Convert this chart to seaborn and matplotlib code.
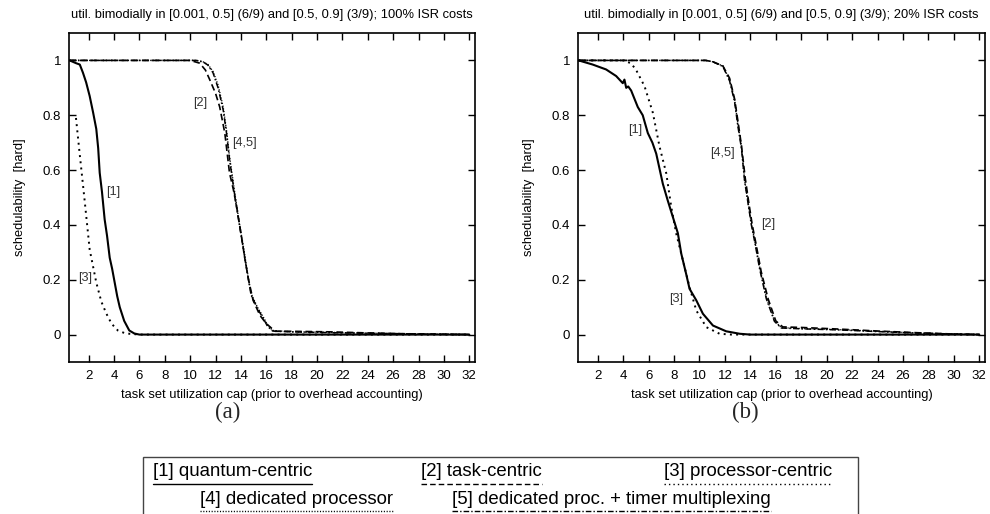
import numpy as np
import pandas as pd
import matplotlib
matplotlib.use("Agg")
import matplotlib.pyplot as plt
from matplotlib.lines import Line2D
from matplotlib.patches import Rectangle
import seaborn as sns

sns.set_theme(style="white")
plt.rcParams['font.family'] = ['Liberation Sans', 'DejaVu Sans']

# ---------------- data ----------------
titles = ["util. bimodially in [0.001, 0.5] (6/9) and [0.5, 0.9] (3/9); 100% ISR costs",
          "util. bimodially in [0.001, 0.5] (6/9) and [0.5, 0.9] (3/9); 20% ISR costs"]
xlabel = "task set utilization cap (prior to overhead accounting)"
ylabel = "schedulability  [hard]"
xticks = list(range(2, 33, 2))
yticks = [0, 0.2, 0.4, 0.6, 0.8, 1]
panel_labels = ["(a)", "(b)"]

# panel (a): 100% ISR costs
qc_a_x = [0.5, 1.0, 1.3, 1.55, 1.8, 2.08, 2.35, 2.6, 2.75, 2.87, 3.05, 3.26, 3.45, 3.66, 3.85,
          4.05, 4.25, 4.45, 4.8, 5.2, 5.6, 6.0, 32]
qc_a_y = [1.0, 0.99, 0.985, 0.955, 0.92, 0.87, 0.81, 0.75, 0.68, 0.59, 0.52, 0.42, 0.36, 0.28, 0.24,
          0.19, 0.14, 0.10, 0.05, 0.015, 0.004, 0.0, 0.0]
pc_a_x = [1.0, 1.29, 1.68, 2.08, 2.6, 3.0, 3.39, 3.8, 4.3, 4.8, 5.2, 6.0, 32]
pc_a_y = [0.79, 0.66, 0.49, 0.31, 0.19, 0.12, 0.077, 0.04, 0.015, 0.006, 0.003, 0.0, 0.0]
tc_a_x = [0.5, 10.0, 10.75, 11.2, 11.54, 12.0, 12.33, 12.73, 13.1, 13.4, 13.65, 14.0, 14.3, 14.6,
          14.96, 15.5, 16.0, 16.7, 18, 21, 24, 27, 30, 32]
tc_a_y = [1.0, 1.0, 0.99, 0.965, 0.93, 0.88, 0.83, 0.735, 0.59, 0.53, 0.47, 0.37, 0.28, 0.20,
          0.125, 0.07, 0.04, 0.012, 0.012, 0.01, 0.006, 0.003, 0.001, 0.0]
dp_a_x = [0.5, 10.5, 11.0, 11.4, 11.8, 12.2, 12.6, 12.85, 13.1, 13.35, 13.6, 13.9, 14.2, 14.5,
          14.8, 15.3, 15.75, 16.1, 16.5, 18, 21, 24, 27, 30, 32]
dp_a_y = [1.0, 1.0, 0.995, 0.985, 0.96, 0.91, 0.83, 0.75, 0.65, 0.57, 0.49, 0.40, 0.32, 0.23,
          0.15, 0.10, 0.065, 0.035, 0.015, 0.01, 0.008, 0.005, 0.003, 0.001, 0.0]
dt_a_x = [0.5, 10.5, 11.0, 11.4, 11.8, 12.2, 12.6, 12.85, 13.1, 13.35, 13.6, 13.9, 14.2, 14.5,
          14.8, 15.3, 15.75, 16.1, 16.5, 18, 21, 24, 27, 30, 32]
dt_a_y = [1.0, 1.0, 0.995, 0.983, 0.955, 0.90, 0.82, 0.74, 0.64, 0.56, 0.48, 0.395, 0.31, 0.225,
          0.145, 0.095, 0.06, 0.03, 0.013, 0.01, 0.007, 0.005, 0.003, 0.001, 0.0]

# panel (b): 20% ISR costs
qc_b_x = [0.5, 1.6, 2.66, 3.45, 3.97, 4.1, 4.24, 4.4, 4.63, 5.15, 5.54, 5.94, 6.3, 6.6, 7.12,
          7.5, 7.9, 8.3, 8.57, 8.96, 9.22, 9.75, 10.27, 11.06, 12.1, 13.16, 14.0, 32]
qc_b_y = [1.0, 0.985, 0.967, 0.943, 0.917, 0.93, 0.90, 0.905, 0.89, 0.83, 0.80, 0.735, 0.70, 0.66, 0.55,
          0.49, 0.43, 0.37, 0.295, 0.22, 0.167, 0.125, 0.076, 0.033, 0.012, 0.003, 0.0, 0.0]
pc_b_x = [0.5, 4.0, 4.6, 5.0, 5.68, 6.33, 6.86, 7.39, 7.78, 8.17, 8.7, 9.22, 9.75, 10.54,
          11.58, 12.5, 32]
pc_b_y = [1.0, 1.0, 0.99, 0.967, 0.906, 0.81, 0.686, 0.588, 0.466, 0.369, 0.27, 0.173, 0.088, 0.027,
          0.003, 0.0, 0.0]
tc_b_x = [0.5, 10.5, 11.06, 11.84, 12.37, 12.76, 13.02, 13.3, 13.6, 13.85, 14.15, 14.45, 14.85,
          15.4, 16.0, 16.55, 18, 21, 24, 27, 30, 32]
tc_b_y = [1.0, 1.0, 0.995, 0.98, 0.935, 0.86, 0.78, 0.69, 0.57, 0.49, 0.40, 0.33, 0.23,
          0.13, 0.05, 0.028, 0.026, 0.02, 0.013, 0.007, 0.002, 0.0]
dp_b_x = [0.5, 10.5, 11.06, 11.84, 12.37, 12.76, 13.02, 13.3, 13.55, 13.8, 14.08, 14.34, 14.73,
          15.26, 15.9, 16.44, 18, 21, 24, 27, 30, 32]
dp_b_y = [1.0, 1.0, 0.995, 0.98, 0.93, 0.857, 0.77, 0.686, 0.564, 0.49, 0.405, 0.344, 0.247,
          0.137, 0.05, 0.025, 0.022, 0.018, 0.012, 0.006, 0.002, 0.0]
dt_b_x = [0.5, 10.5, 11.06, 11.84, 12.37, 12.76, 13.02, 13.3, 13.55, 13.8, 14.08, 14.34, 14.73,
          15.26, 15.9, 16.44, 18, 21, 24, 27, 30, 32]
dt_b_y = [1.0, 1.0, 0.995, 0.978, 0.925, 0.85, 0.76, 0.68, 0.56, 0.485, 0.40, 0.34, 0.24,
          0.13, 0.048, 0.024, 0.021, 0.017, 0.011, 0.006, 0.002, 0.0]

series_names = ["[1] quantum-centric", "[2] task-centric", "[3] processor-centric",
                "[4] dedicated processor", "[5] dedicated proc. + timer multiplexing"]

# annotations: (text, x, y)
annot_a = [("[1]", 3.9, 0.52), ("[3]", 1.7, 0.205), ("[2]", 10.8, 0.845), ("[4,5]", 14.3, 0.70)]
annot_b = [("[1]", 4.97, 0.747), ("[4,5]", 11.84, 0.662), ("[2]", 15.4, 0.405), ("[3]", 8.2, 0.13)]

# ---------------- styles ----------------
styles = [
    dict(linestyle='-', linewidth=1.5),
    dict(linestyle=(0, (4, 2.2)), linewidth=1.2),
    dict(linestyle=(0, (1, 2.2)), linewidth=1.4),
    dict(linestyle=(0, (0.8, 1.2)), linewidth=1.0),
    dict(linestyle=(0, (4, 1.5, 1, 1.5)), linewidth=1.1),
]

W, H = 990, 514
fig = plt.figure(figsize=(W / 100, H / 100), dpi=100)

def fx(px):
    return px / W

def fy(py):
    return 1 - py / H

ax_a = fig.add_axes([fx(69), fy(362), fx(475 - 69), (362 - 33) / H])
ax_b = fig.add_axes([fx(578), fy(362), fx(985 - 578), (362 - 33) / H])

panels = [
    (ax_a, [(qc_a_x, qc_a_y), (tc_a_x, tc_a_y), (pc_a_x, pc_a_y), (dp_a_x, dp_a_y), (dt_a_x, dt_a_y)], annot_a),
    (ax_b, [(qc_b_x, qc_b_y), (tc_b_x, tc_b_y), (pc_b_x, pc_b_y), (dp_b_x, dp_b_y), (dt_b_x, dt_b_y)], annot_b),
]

for i, (ax, data, annots) in enumerate(panels):
    for (xs, ys), st in zip(data, styles):
        sns.lineplot(x=xs, y=ys, ax=ax, color='black', estimator=None, sort=False, **st)
    ax.set_xlim(0.45, 32.45)
    ax.set_ylim(-0.1, 1.1)
    ax.set_xticks(xticks)
    ax.set_xticklabels([str(t) for t in xticks])
    ax.set_yticks(yticks)
    ax.set_yticklabels(["%g" % t for t in yticks])
    ax.tick_params(direction='in', length=5, width=1.0, top=True, right=True,
                   bottom=True, left=True, labelsize=9.5, colors='black')
    ax.tick_params(axis='x', pad=5.5)
    ax.tick_params(axis='y', pad=5.5)
    for sp in ax.spines.values():
        sp.set_visible(True)
        sp.set_color('black')
        sp.set_linewidth(1.2)
    ax.set_xlabel(xlabel, fontsize=9.25, labelpad=5.5, color='black')
    ax.set_ylabel(ylabel, fontsize=9.25, labelpad=12, color='black')
    ax.set_title(titles[i], fontsize=9.3, pad=10.5, color='black')
    ax.grid(False)
    for txt, tx, ty in annots:
        ax.text(tx, ty, txt, fontsize=9.2, ha='center', va='center', color='#333333')

fig.text(fx(228), fy(412), panel_labels[0], ha='center', va='center', fontsize=16.5,
         family=['Liberation Serif', 'DejaVu Serif'])
fig.text(fx(745), fy(412), panel_labels[1], ha='center', va='center', fontsize=16.5,
         family=['Liberation Serif', 'DejaVu Serif'])

# custom legend box with underlined entries
fig.add_artist(Rectangle((fx(143), fy(530)), fx(858 - 143), (530 - 457) / H,
                         transform=fig.transFigure, fill=False, edgecolor='#444444', linewidth=1.0))
legend_pos = [(153, 472, 0), (421, 472, 1), (664, 472, 2), (200, 499, 3), (452, 499, 4)]
renderer = fig.canvas.get_renderer()
for (px, py, k) in legend_pos:
    t = fig.text(fx(px), fy(py), series_names[k], ha='left', va='center', fontsize=13.4, color='black')
    bb = t.get_window_extent(renderer=renderer)
    x0 = bb.x0 / fig.bbox.width
    x1 = bb.x1 / fig.bbox.width
    yl = fy(py + 12)
    st = styles[k]
    fig.add_artist(Line2D([x0, x1], [yl, yl], transform=fig.transFigure, color='black',
                          linestyle=st['linestyle'], linewidth=min(st['linewidth'], 1.0)))

fig.savefig("out.png", dpi=100)
